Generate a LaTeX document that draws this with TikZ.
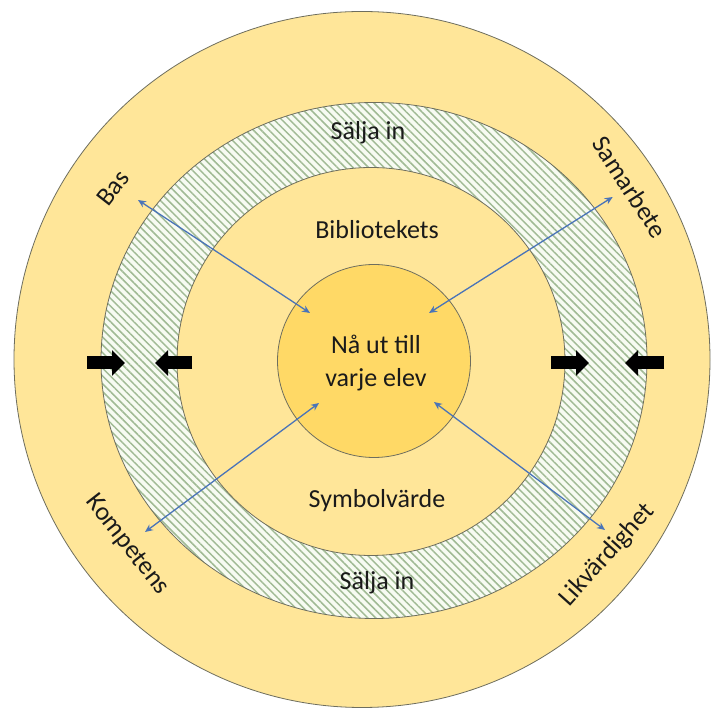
\documentclass[tikz,border=0pt]{standalone}
\usepackage{fontspec}
\setmainfont{Carlito}
\usetikzlibrary{arrows.meta,patterns.meta,shapes.geometric}
\definecolor{outerfill}{HTML}{FFE699}
\definecolor{corefill}{HTML}{FFD966}
\definecolor{edgecol}{HTML}{6E6E5E}
\definecolor{hatchcol}{RGB}{160,186,148}
\definecolor{hatchbg}{HTML}{F7FBF2}
\definecolor{linkblue}{HTML}{4A74B8}
\definecolor{txt}{HTML}{1A1A1A}
\begin{document}
\begin{tikzpicture}[x=1pt,y=1pt,
  lbl/.style={text=txt, font=\fontsize{26}{33}\selectfont, inner sep=0pt},
  ring/.style={draw=edgecol, line width=0.8pt},
  link/.style={draw=linkblue, line width=1.3pt, {Stealth[length=8pt,width=7pt]}-{Stealth[length=8pt,width=7pt]}},
  blockarrow/.style={draw=black, line width=13pt, -{Triangle[width=25pt,length=13pt]}}
]
\useasboundingbox (0,0) rectangle (712,709);
\fill[white] (0,0) rectangle (712,709);
% outer disc
\node[circle, ring, fill=outerfill, minimum size=696pt, inner sep=0pt] (outer) at (362,349.5) {};
% hatched ring
\node[ellipse, fill=hatchbg, minimum width=546pt, minimum height=516pt, inner sep=0pt] (hatch) at (374,348.5) {};
\fill[pattern={Lines[angle=-45,distance=5.5pt,line width=1.5pt]}, pattern color=hatchcol] (374,348.5) ellipse [x radius=273, y radius=258];
\draw[ring] (374,348.5) ellipse [x radius=273, y radius=258];
% inner plain disc
\node[circle, ring, fill=outerfill, minimum size=388pt, inner sep=0pt] (inner) at (371,347.5) {};
% core
\node[circle, ring, fill=corefill, minimum size=193pt, inner sep=0pt] (core) at (374,348) {};
\node[lbl, align=center] (coretext) at (376,346) {Nå ut till\\varje elev};

% ring texts
\node[lbl] (saljatop) at (368,576) {Sälja in};
\node[lbl] (bibl) at (377,479) {Bibliotekets};
\node[lbl] (symb) at (377,208) {Symbolvärde};
\node[lbl] (saljabot) at (377,126) {Sälja in};

% outer labels
\node[lbl, rotate=52] (bas) at (113,521) {Bas};
\node[lbl, rotate=-57] (samarb) at (630,522) {Samarbete};
\node[lbl, rotate=-52] (komp) at (127,164) {Kompetens};
\node[lbl, rotate=48] (likv) at (607,154) {Likvärdighet};

% link end points
\coordinate (basend) at (138,509);
\coordinate (basin) at (310,396);
\coordinate (samend) at (612.7,512);
\coordinate (samin) at (429,396);
\coordinate (kompend) at (145,177);
\coordinate (kompin) at (319,306);
\coordinate (likvend) at (605,179);
\coordinate (likvin) at (434,307);
\draw[link] (basend) -- (basin);
\draw[link] (samend) -- (samin);
\draw[link] (kompend) -- (kompin);
\draw[link] (likvend) -- (likvin);

% block arrows
\coordinate (b1s) at (87,346);
\coordinate (b1e) at (125,346);
\coordinate (b2s) at (192,346);
\coordinate (b2e) at (155,346);
\coordinate (b3s) at (551,346);
\coordinate (b3e) at (589,346);
\coordinate (b4s) at (664,346);
\coordinate (b4e) at (625,346);
\draw[blockarrow] (b1s) -- (b1e);
\draw[blockarrow] (b2s) -- (b2e);
\draw[blockarrow] (b3s) -- (b3e);
\draw[blockarrow] (b4s) -- (b4e);
\end{tikzpicture}
\end{document}
